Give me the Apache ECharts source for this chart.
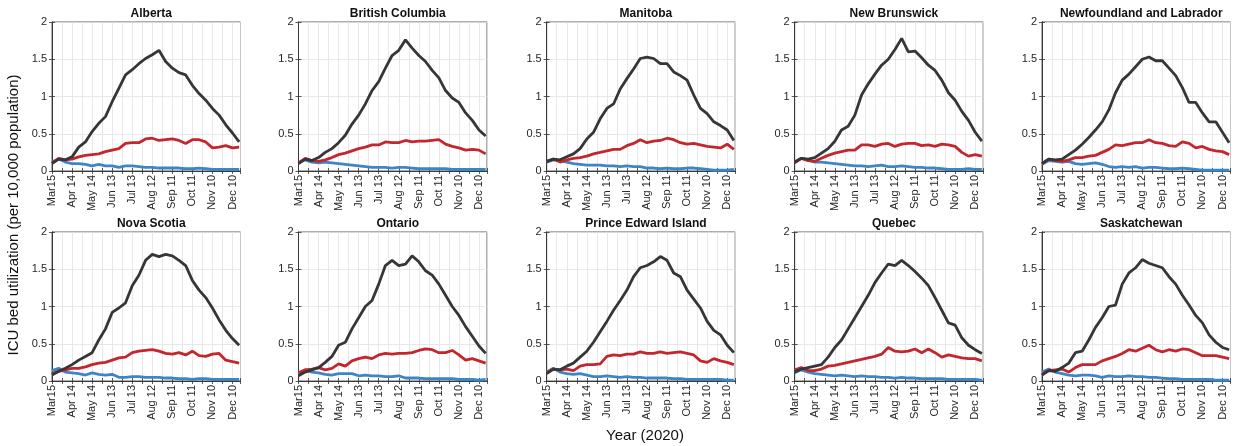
<!DOCTYPE html>
<html><head><meta charset="utf-8">
<script src="https://cdn.jsdelivr.net/npm/echarts@6/dist/echarts.min.js"></script>
<style>html,body{margin:0;padding:0;background:#fff}#c{width:1235px;height:446px}</style>
</head><body><div id="c"></div>
<script>
// ---- data ----
const days = [0,10,20,30,40,50,60,70,80,90,100,110,120,130,140,150,160,170,180,190,200,210,220,230,240,250,260,270,280];
const tickDays = [0,30,60,90,120,150,180,210,240,270];
const tickLabels = ['Mar15','Apr 14','May 14','Jun 13','Jul 13','Aug 12','Sep 11','Oct 11','Nov 10','Dec 10'];
const provinces = ['Alberta','British Columbia','Manitoba','New Brunswick','Newfoundland and Labrador','Nova Scotia','Ontario','Prince Edward Island','Quebec','Saskatchewan'];

const albertaBlack = [0.10,0.16,0.15,0.19,0.32,0.39,0.53,0.64,0.73,0.93,1.11,1.29,1.36,1.44,1.51,1.56,1.62,1.47,1.38,1.32,1.29,1.15,1.04,0.95,0.84,0.75,0.62,0.51,0.39];
const albertaRed   = [0.11,0.17,0.15,0.16,0.19,0.21,0.22,0.23,0.26,0.28,0.30,0.37,0.38,0.38,0.43,0.44,0.41,0.42,0.43,0.41,0.37,0.42,0.42,0.39,0.31,0.32,0.34,0.31,0.32];
const albertaBlue  = [0.12,0.16,0.12,0.10,0.10,0.09,0.07,0.09,0.07,0.07,0.05,0.07,0.07,0.06,0.05,0.05,0.04,0.04,0.04,0.04,0.03,0.03,0.04,0.03,0.02,0.02,0.02,0.02,0.02];

const bcBlack = [0.10,0.16,0.14,0.18,0.25,0.30,0.38,0.48,0.63,0.75,0.90,1.08,1.20,1.38,1.55,1.62,1.76,1.65,1.55,1.47,1.35,1.25,1.08,0.98,0.92,0.78,0.68,0.55,0.47];
const bcRed   = [0.11,0.17,0.14,0.13,0.15,0.18,0.22,0.24,0.27,0.30,0.32,0.35,0.35,0.39,0.38,0.38,0.41,0.39,0.40,0.40,0.41,0.42,0.36,0.33,0.31,0.28,0.29,0.28,0.23];
const bcBlue  = [0.11,0.15,0.12,0.11,0.12,0.11,0.10,0.09,0.08,0.07,0.06,0.05,0.05,0.05,0.04,0.05,0.05,0.04,0.03,0.03,0.03,0.03,0.03,0.02,0.02,0.02,0.02,0.02,0.02];

const manitobaBlack = [0.13,0.16,0.15,0.19,0.23,0.30,0.43,0.52,0.70,0.84,0.90,1.10,1.24,1.37,1.51,1.53,1.51,1.44,1.44,1.33,1.28,1.22,1.02,0.84,0.77,0.66,0.61,0.55,0.41];
const manitobaRed   = [0.13,0.16,0.12,0.15,0.17,0.18,0.20,0.23,0.25,0.27,0.29,0.29,0.34,0.37,0.42,0.38,0.40,0.41,0.44,0.42,0.38,0.36,0.37,0.35,0.33,0.32,0.31,0.36,0.29];
const manitobaBlue  = [0.12,0.15,0.14,0.12,0.10,0.09,0.08,0.08,0.08,0.07,0.07,0.06,0.07,0.06,0.06,0.04,0.04,0.03,0.04,0.03,0.03,0.04,0.04,0.03,0.02,0.01,0.01,0.01,0.02];

const nbBlack = [0.12,0.17,0.16,0.18,0.24,0.30,0.40,0.55,0.60,0.75,1.02,1.17,1.30,1.42,1.50,1.63,1.78,1.60,1.61,1.52,1.42,1.35,1.22,1.05,0.95,0.80,0.68,0.52,0.40];
const nbRed   = [0.11,0.17,0.14,0.13,0.17,0.21,0.24,0.26,0.28,0.28,0.35,0.35,0.33,0.36,0.37,0.33,0.36,0.37,0.37,0.34,0.35,0.33,0.36,0.35,0.33,0.25,0.20,0.22,0.20];
const nbBlue  = [0.12,0.17,0.15,0.12,0.12,0.11,0.10,0.09,0.08,0.07,0.07,0.06,0.07,0.08,0.06,0.06,0.07,0.06,0.05,0.05,0.04,0.04,0.03,0.02,0.02,0.02,0.03,0.02,0.02];

const nlBlack = [0.10,0.16,0.15,0.16,0.22,0.28,0.36,0.45,0.55,0.66,0.82,1.05,1.22,1.30,1.40,1.50,1.53,1.48,1.48,1.38,1.28,1.12,0.92,0.92,0.78,0.66,0.66,0.52,0.38];
const nlRed   = [0.10,0.16,0.14,0.13,0.15,0.18,0.18,0.20,0.21,0.25,0.29,0.35,0.34,0.36,0.38,0.38,0.42,0.38,0.37,0.34,0.33,0.39,0.37,0.31,0.33,0.29,0.27,0.26,0.22];
const nlBlue  = [0.09,0.14,0.13,0.12,0.13,0.10,0.09,0.10,0.11,0.09,0.06,0.05,0.06,0.05,0.06,0.04,0.05,0.05,0.04,0.03,0.03,0.04,0.03,0.02,0.01,0.01,0.01,0.01,0.01];

const nsBlack = [0.08,0.13,0.17,0.22,0.28,0.33,0.38,0.55,0.70,0.92,0.98,1.05,1.28,1.42,1.62,1.70,1.67,1.70,1.68,1.62,1.55,1.35,1.22,1.12,0.98,0.82,0.68,0.57,0.48];
const nsRed   = [0.10,0.13,0.15,0.17,0.17,0.19,0.22,0.24,0.25,0.28,0.31,0.32,0.38,0.40,0.41,0.42,0.40,0.37,0.36,0.38,0.35,0.40,0.34,0.33,0.36,0.37,0.28,0.26,0.24];
const nsBlue  = [0.14,0.17,0.12,0.11,0.10,0.08,0.11,0.09,0.08,0.09,0.05,0.05,0.06,0.06,0.05,0.05,0.05,0.04,0.04,0.03,0.03,0.02,0.03,0.03,0.02,0.02,0.02,0.02,0.02];

const onBlack = [0.07,0.12,0.15,0.18,0.25,0.33,0.48,0.52,0.70,0.85,1.00,1.08,1.30,1.55,1.62,1.55,1.57,1.68,1.60,1.48,1.42,1.30,1.15,1.00,0.88,0.73,0.60,0.47,0.37];
const onRed   = [0.11,0.15,0.16,0.18,0.15,0.17,0.23,0.20,0.27,0.30,0.32,0.30,0.35,0.37,0.36,0.37,0.37,0.38,0.41,0.43,0.42,0.38,0.38,0.41,0.35,0.28,0.30,0.27,0.24];
const onBlue  = [0.09,0.15,0.12,0.11,0.09,0.08,0.10,0.10,0.10,0.07,0.08,0.07,0.07,0.06,0.06,0.07,0.04,0.04,0.04,0.03,0.03,0.03,0.03,0.03,0.02,0.02,0.02,0.01,0.02];

const peiBlack = [0.10,0.16,0.15,0.20,0.24,0.32,0.40,0.52,0.66,0.80,0.95,1.08,1.22,1.40,1.52,1.55,1.60,1.67,1.62,1.45,1.40,1.22,1.10,0.98,0.80,0.68,0.62,0.48,0.38];
const peiRed   = [0.11,0.16,0.15,0.16,0.14,0.20,0.22,0.22,0.23,0.33,0.35,0.34,0.36,0.36,0.39,0.37,0.37,0.39,0.37,0.38,0.39,0.37,0.35,0.27,0.25,0.30,0.27,0.25,0.22];
const peiBlue  = [0.12,0.17,0.12,0.10,0.09,0.10,0.08,0.06,0.06,0.07,0.06,0.05,0.06,0.05,0.05,0.04,0.04,0.04,0.04,0.03,0.03,0.02,0.02,0.02,0.02,0.02,0.02,0.01,0.01];

const qcBlack = [0.12,0.16,0.18,0.20,0.22,0.32,0.45,0.55,0.70,0.85,1.00,1.15,1.32,1.45,1.57,1.55,1.62,1.55,1.47,1.38,1.28,1.12,0.95,0.78,0.75,0.58,0.48,0.42,0.37];
const qcRed   = [0.15,0.18,0.14,0.14,0.16,0.20,0.21,0.23,0.25,0.27,0.29,0.31,0.33,0.36,0.45,0.40,0.39,0.40,0.43,0.38,0.43,0.38,0.32,0.35,0.33,0.31,0.30,0.30,0.27];
const qcBlue  = [0.11,0.15,0.12,0.10,0.09,0.08,0.07,0.08,0.07,0.06,0.07,0.06,0.06,0.05,0.05,0.04,0.05,0.04,0.04,0.03,0.03,0.03,0.03,0.02,0.02,0.02,0.02,0.02,0.01];

const skBlack = [0.08,0.14,0.13,0.18,0.24,0.38,0.40,0.55,0.72,0.85,1.00,1.02,1.30,1.45,1.52,1.63,1.58,1.55,1.52,1.40,1.30,1.15,1.02,0.88,0.78,0.62,0.52,0.45,0.42];
const skRed   = [0.09,0.14,0.15,0.16,0.12,0.18,0.22,0.22,0.22,0.27,0.30,0.33,0.37,0.42,0.40,0.44,0.48,0.42,0.39,0.42,0.40,0.43,0.42,0.38,0.34,0.34,0.34,0.32,0.30];
const skBlue  = [0.12,0.16,0.12,0.10,0.08,0.07,0.08,0.08,0.07,0.05,0.07,0.06,0.06,0.07,0.06,0.06,0.05,0.05,0.04,0.03,0.03,0.02,0.02,0.02,0.02,0.02,0.01,0.01,0.01];

const panelSeries = [
  [albertaBlack, albertaRed, albertaBlue],
  [bcBlack, bcRed, bcBlue],
  [manitobaBlack, manitobaRed, manitobaBlue],
  [nbBlack, nbRed, nbBlue],
  [nlBlack, nlRed, nlBlue],
  [nsBlack, nsRed, nsBlue],
  [onBlack, onRed, onBlue],
  [peiBlack, peiRed, peiBlue],
  [qcBlack, qcRed, qcBlue],
  [skBlack, skRed, skBlue]
];

// ---- layout / style ----
const FONT = '"Liberation Sans", Arial, Helvetica, sans-serif';
const lefts = [52, 298.5, 546.7, 794.7, 1042];
const tops = [22, 232];
const W = 188.5, H = 149;
const colors = ['#363636', '#c4262e', '#3d86c6'];
const axisCol = '#333';
const textCol = '#262626';

const grid = [], xAxis = [], yAxis = [], series = [], title = [];
provinces.forEach((name, p) => {
  const r = Math.floor(p / 5), c = p % 5;
  grid.push({left: lefts[c], top: tops[r], width: W, height: H, show: true, borderColor: axisCol, borderWidth: 0.8, containLabel: false});
  title.push({text: name, left: lefts[c] + W / 2, top: tops[r] - 19, textAlign: 'center',
    textStyle: {fontFamily: FONT, fontSize: 12, fontWeight: 'bold', color: '#111'}});
  xAxis.push({type: 'value', gridIndex: p, min: 0, max: 282, interval: 15,
    axisLine: {show: true, lineStyle: {color: axisCol, width: 0.8}},
    axisTick: {show: true, inside: true, length: 3, lineStyle: {color: axisCol, width: 0.8}},
    axisLabel: {show: true, rotate: 90, margin: 4, fontFamily: FONT, fontSize: 11, color: textCol,
      formatter: v => { const i = tickDays.indexOf(v); return i >= 0 ? tickLabels[i] : ''; }},
    splitLine: {show: true, lineStyle: {color: '#e2e2e2', width: 0.8}}});
  xAxis.push({type: 'value', gridIndex: p, position: 'top', min: 0, max: 282, interval: 15,
    axisLine: {show: true, lineStyle: {color: axisCol, width: 0.8}},
    axisTick: {show: true, inside: true, length: 3, lineStyle: {color: axisCol, width: 0.8}},
    axisLabel: {show: false}, splitLine: {show: false}});
  yAxis.push({type: 'value', gridIndex: p, min: 0, max: 2, interval: 0.5,
    axisLine: {show: true, lineStyle: {color: axisCol, width: 0.8}},
    axisTick: {show: true, inside: true, length: 3, lineStyle: {color: axisCol, width: 0.8}},
    axisLabel: {show: true, margin: 5, fontFamily: FONT, fontSize: 11, color: textCol},
    splitLine: {show: true, lineStyle: {color: '#e2e2e2', width: 0.8}}});
  yAxis.push({type: 'value', gridIndex: p, position: 'right', min: 0, max: 2, interval: 0.5,
    axisLine: {show: true, lineStyle: {color: axisCol, width: 0.8}},
    axisTick: {show: true, inside: true, length: 3, lineStyle: {color: axisCol, width: 0.8}},
    axisLabel: {show: false}, splitLine: {show: false}});
  const names = ['Total', 'Scenario B', 'Scenario C'];
  [2, 1, 0].forEach(k => {
    series.push({type: 'line', name: names[k], xAxisIndex: 2 * p, yAxisIndex: 2 * p,
      data: days.map((d, i) => [d, panelSeries[p][k][i]]),
      showSymbol: false, smooth: false, animation: false,
      lineStyle: {color: colors[k], width: 2.8}, itemStyle: {color: colors[k]}, z: 3 + (2 - k)});
  });
});

const chart = echarts.init(document.getElementById('c'), null, {renderer: 'canvas'});
chart.setOption({
  animation: false,
  backgroundColor: '#fff',
  title, grid, xAxis, yAxis, series,
  graphic: [
    {type: 'text', x: 14, y: 215, rotation: Math.PI / 2,
      style: {text: 'ICU bed utilization (per 10,000 population)', textAlign: 'center', textVerticalAlign: 'middle',
        font: '15px ' + FONT, fill: '#111'}},
    {type: 'text', x: 645, y: 436,
      style: {text: 'Year (2020)', textAlign: 'center', textVerticalAlign: 'middle', font: '15px ' + FONT, fill: '#111'}}
  ]
});
</script>
</body></html>
